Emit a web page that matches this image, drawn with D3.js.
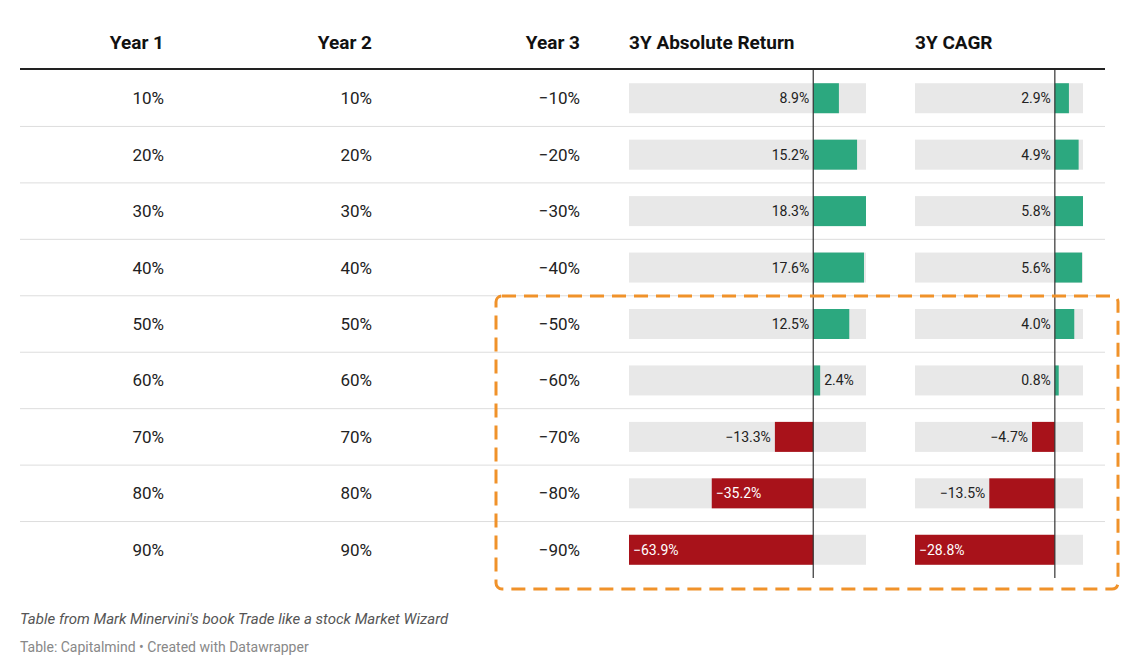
<!DOCTYPE html>
<html><head><meta charset="utf-8">
<script src="https://cdn.jsdelivr.net/npm/d3@7"></script>
<style>body{margin:0;background:#fff;font-family:Roboto,"Noto Sans",sans-serif;}</style>
</head><body><svg id="chart" width="1126" height="661"></svg>
<script>
// table data
var year1 = [10, 20, 30, 40, 50, 60, 70, 80, 90];
var year2 = [10, 20, 30, 40, 50, 60, 70, 80, 90];
var year3 = [-10, -20, -30, -40, -50, -60, -70, -80, -90];
var absReturn = [8.9, 15.2, 18.3, 17.6, 12.5, 2.4, -13.3, -35.2, -63.9];
var cagr = [2.9, 4.9, 5.8, 5.6, 4.0, 0.8, -4.7, -13.5, -28.8];
var headers = ['Year 1', 'Year 2', 'Year 3', '3Y Absolute Return', '3Y CAGR'];

var svg = d3.select('#chart');
var GREEN = '#2ca87f', RED = '#a8121a';

var y = d3.scaleBand().domain(d3.range(year1.length)).range([70, 578]);
var fmtPct = function(v) { return (v < 0 ? '\u2212' : '') + Math.abs(v) + '%'; };
var fmtBar = function(v) { return (v < 0 ? '\u2212' : '') + Math.abs(v).toFixed(1) + '%'; };

// headers
var headX = [164, 372, 580];
headers.slice(0, 3).forEach(function(h, i) {
    svg.append('text').attr('x', headX[i]).attr('y', 49).attr('text-anchor', 'end')
        .attr('font-size', 19).attr('font-weight', 700).attr('fill', '#111').text(h);
});
svg.append('text').attr('x', 629).attr('y', 49).attr('font-size', 19).attr('font-weight', 700).attr('fill', '#111').text(headers[3]);
svg.append('text').attr('x', 915).attr('y', 49).attr('font-size', 19).attr('font-weight', 700).attr('fill', '#111').text(headers[4]);
svg.append('line').attr('x1', 20).attr('x2', 1105).attr('y1', 69).attr('y2', 69).attr('stroke', '#222').attr('stroke-width', 2);

// row separators
d3.range(1, year1.length).forEach(function(i) {
    svg.append('line').attr('x1', 20).attr('x2', 1105).attr('y1', y(i)).attr('y2', y(i)).attr('stroke', '#ddd');
});

// numeric columns
[year1, year2, year3].forEach(function(col, c) {
    svg.selectAll(null).data(col).enter().append('text')
        .attr('x', headX[c]).attr('y', function(d, i) { return y(i) + y.bandwidth() / 2 + 6; })
        .attr('text-anchor', 'end').attr('font-size', 17).attr('fill', '#222')
        .text(fmtPct);
});

function barColumn(data, x0, x1, domain, rightLabelSmall) {
    var x = d3.scaleLinear().domain(domain).range([x0, x1]);
    var g = svg.append('g');
    var bh = 30;
    data.forEach(function(v, i) {
        var cy = y(i) + y.bandwidth() / 2;
        g.append('rect').attr('x', x0).attr('width', x1 - x0).attr('y', cy - bh / 2).attr('height', bh).attr('fill', '#e8e8e8');
        g.append('rect').attr('x', Math.min(x(0), x(v))).attr('width', Math.abs(x(v) - x(0)))
            .attr('y', cy - bh / 2).attr('height', bh).attr('fill', v >= 0 ? GREEN : RED);
        var t = g.append('text').attr('y', cy + 5).attr('font-size', 14).text(fmtBar(v));
        var w = Math.abs(x(v) - x(0));
        if (v >= 0) {
            if (rightLabelSmall && v < 3) t.attr('x', x(v) + 4).attr('fill', '#222');
            else t.attr('x', x(0) - 4).attr('text-anchor', 'end').attr('fill', '#222');
        } else if (w > 70) {
            t.attr('x', x(v) + 4).attr('fill', '#fff');
        } else {
            t.attr('x', x(v) - 4).attr('text-anchor', 'end').attr('fill', '#222');
        }
    });
    g.append('line').attr('x1', x(0)).attr('x2', x(0)).attr('y1', 70).attr('y2', 578).attr('stroke', '#333').attr('stroke-width', 1.2);
}
barColumn(absReturn, 629, 866, [-63.9, 18.3], true);
barColumn(cagr, 915, 1083, [-28.8, 5.8], false);

// highlight box
svg.append('rect').attr('x', 496).attr('y', 296).attr('width', 622).attr('height', 293).attr('rx', 6)
    .attr('fill', 'none').attr('stroke', '#f0922a').attr('stroke-width', 3).attr('stroke-dasharray', '14,8');

// footer
svg.append('text').attr('x', 20).attr('y', 624).attr('font-size', 15).attr('font-style', 'italic').attr('fill', '#555')
    .text("Table from Mark Minervini's book Trade like a stock Market Wizard");
svg.append('text').attr('x', 20).attr('y', 652).attr('font-size', 14).attr('fill', '#888')
    .text('Table: Capitalmind \u2022 Created with Datawrapper');
</script></body></html>
